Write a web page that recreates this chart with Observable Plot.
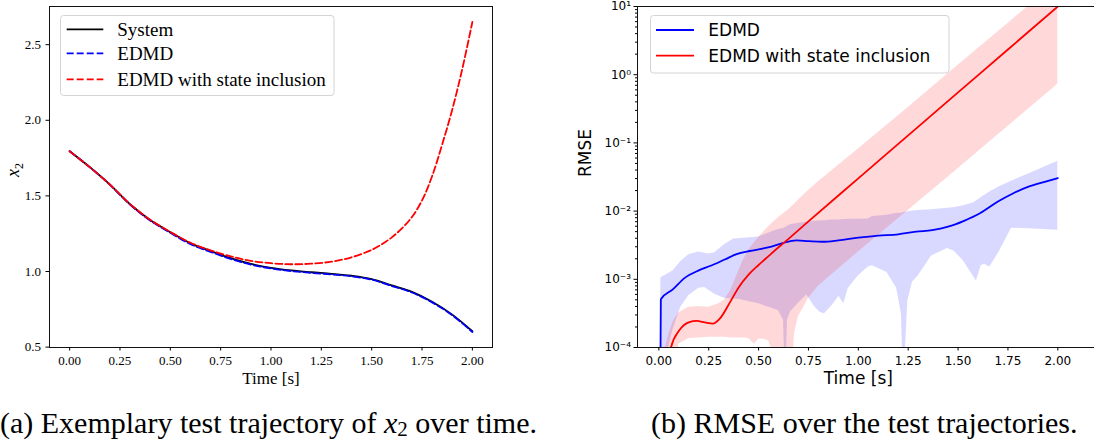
<!DOCTYPE html>
<html><head><meta charset="utf-8">
<script src="https://cdn.jsdelivr.net/npm/d3@7"></script>
<script src="https://cdn.jsdelivr.net/npm/@observablehq/plot@0.6"></script>
<style>
body{margin:0;background:#fff;}
#wrap{position:relative;width:1094px;height:443px;overflow:hidden;background:#fff;}
.panel{position:absolute;top:0;}
.panel svg{max-width:none !important;display:block;}
#overlay{position:absolute;left:0;top:0;pointer-events:none;}
.caption{position:absolute;top:408px;font-family:"Liberation Serif",serif;font-size:30px;line-height:30px;white-space:nowrap;color:#000;}
.caption .sub{font-size:0.7em;position:relative;top:0.12em;}
</style></head>
<body>
<div id="wrap">
  <div id="left" class="panel" style="left:0px;width:540px;height:400px"></div>
  <div id="right" class="panel" style="left:550px;width:560px;height:400px"></div>
  <svg id="overlay" width="1094" height="443"></svg>
  <div class="caption" style="left:0px">(a) Exemplary test trajectory of <i>x</i><span class="sub">2</span> over time.</div>
  <div class="caption" style="left:651px">(b) RMSE over the test trajectories.</div>
</div>
<script>
// ---------- (a) trajectory of x2 ----------
const timeTicks = [0, 0.25, 0.5, 0.75, 1, 1.25, 1.5, 1.75, 2];
const x2Ticks = [0.5, 1.0, 1.5, 2.0, 2.5];
const seriesNamesA = ["System", "EDMD", "EDMD with state inclusion"];

const tTraj = [0,0.1,0.2,0.3,0.4,0.5,0.6,0.7,0.8,0.9,1.0,1.1,1.2,1.3,1.4,1.5,1.6,1.7,1.8,1.9,2.0];
const x2System = [1.795,1.69,1.575,1.445,1.34,1.26,1.186,1.135,1.088,1.05,1.024,1.007,0.995,0.985,0.972,0.950,0.908,0.865,0.80,0.715,0.605];
const x2Edmd   = [1.795,1.69,1.574,1.443,1.337,1.256,1.181,1.13,1.083,1.046,1.02,1.003,0.991,0.981,0.968,0.946,0.904,0.861,0.796,0.711,0.600];
const tTrajState = [0,0.1,0.2,0.3,0.4,0.5,0.6,0.7,0.8,0.9,1.0,1.1,1.2,1.3,1.4,1.5,1.55,1.6,1.65,1.7,1.75,1.8,1.85,1.9,1.95,2.0];
const x2State  = [1.795,1.69,1.575,1.446,1.342,1.262,1.19,1.14,1.10,1.07,1.055,1.048,1.052,1.065,1.094,1.143,1.18,1.226,1.285,1.36,1.47,1.63,1.84,2.07,2.34,2.65];

// ---------- (b) RMSE ----------
const rmseTicks = [1e-4, 1e-3, 1e-2, 1e-1, 1, 10];
const rmseTickLabels = ["10\u207B\u2074","10\u207B\u00B3","10\u207B\u00B2","10\u207B\u00B9","10\u2070","10\u00B9"];
const seriesNamesB = ["EDMD", "EDMD with state inclusion"];

const tRmseEdmd = [0,0.01,0.07,0.13,0.2,0.26,0.33,0.39,0.455,0.52,0.565,0.62,0.69,0.75,0.82,0.9,1.0,1.1,1.2,1.29,1.37,1.45,1.53,1.61,1.70,1.77,1.85,1.93,2.0];
const rmseEdmd = [1e-8,5.1e-4,7.1e-4,1.05e-3,1.35e-3,1.58e-3,1.95e-3,2.34e-3,2.6e-3,2.82e-3,3.02e-3,3.39e-3,3.72e-3,3.63e-3,3.55e-3,3.72e-3,4.07e-3,4.37e-3,4.57e-3,5.0e-3,5.25e-3,5.9e-3,7.2e-3,9.3e-3,1.38e-2,1.78e-2,2.26e-2,2.66e-2,3.05e-2];

const tBandEdmd = [0,0.01,0.07,0.11,0.15,0.2,0.23,0.25,0.28,0.33,0.375,0.41,0.455,0.5,0.58,0.6,0.625,0.635,0.645,0.66,0.70,0.742,0.78,0.806,0.83,0.87,0.903,0.927,0.95,1.0,1.05,1.07,1.144,1.192,1.216,1.227,1.248,1.272,1.30,1.367,1.447,1.479,1.527,1.567,1.576,1.592,1.616,1.632,1.659,1.704,1.768,1.85,2.0];
const rmseEdmdHigh = [1e-8,1.05e-3,1.32e-3,1.82e-3,2.29e-3,2.51e-3,2.40e-3,2.34e-3,2.45e-3,3.24e-3,3.89e-3,3.98e-3,4.07e-3,4.17e-3,5.13e-3,5.37e-3,5.62e-3,5.75e-3,6.03e-3,6.31e-3,6.61e-3,6.92e-3,7.08e-3,7.24e-3,7.24e-3,7.41e-3,7.41e-3,7.50e-3,7.59e-3,7.59e-3,7.67e-3,8.32e-3,8.71e-3,9.33e-3,9.33e-3,9.55e-3,9.77e-3,1.0e-2,1.02e-2,1.05e-2,1.10e-2,1.12e-2,1.20e-2,1.29e-2,1.32e-2,1.41e-2,1.58e-2,1.70e-2,1.91e-2,2.26e-2,2.75e-2,3.47e-2,5.37e-2];
const rmseEdmdLow = [1e-8,3.16e-5,1.78e-4,3.89e-4,5.75e-4,7.41e-4,7.59e-4,6.92e-4,6.03e-4,5.25e-4,5.13e-4,5.01e-4,4.68e-4,4.37e-4,3.63e-4,3.47e-4,2.51e-4,2.51e-5,2.51e-4,3.31e-4,4.47e-4,5.89e-4,3.98e-4,3.31e-4,3.09e-4,4.17e-4,5.62e-4,4.37e-4,7.41e-4,1.12e-3,1.51e-3,1.58e-3,1.26e-3,7.41e-4,3.09e-4,2.51e-5,4.79e-4,9.12e-4,1.12e-3,2.19e-3,2.82e-3,2.60e-3,1.86e-3,1.23e-3,1.12e-3,9.33e-4,1.58e-3,1.66e-3,1.51e-3,2.45e-3,5.62e-3,5.50e-3,5.25e-3];

const tRmseState = [0,0.04,0.061,0.1,0.15,0.19,0.23,0.27,0.31,0.36,0.4,0.45,0.5,0.55,0.6,0.625,0.75,1.0,1.25,1.5,1.75,2.0];
const rmseState = [1e-8,3.98e-5,1.0e-4,1.74e-4,2.34e-4,2.45e-4,2.34e-4,2.24e-4,2.75e-4,4.79e-4,7.59e-4,1.17e-3,1.62e-3,2.19e-3,2.95e-3,3.39e-3,7.08e-3,3.02e-2,0.129,0.550,2.34,10.0];

const tBandState = [0,0.033,0.05,0.075,0.1,0.15,0.2,0.25,0.3,0.33,0.36,0.39,0.42,0.45,0.48,0.5,0.52,0.55,0.575,0.59,0.62,0.65,0.665,0.68,0.70,0.75,0.8,1.0,1.25,1.5,1.75,2.0];
const rmseStateHigh = [1e-8,1.0e-4,1.58e-4,2.51e-4,3.24e-4,3.89e-4,3.98e-4,3.89e-4,4.37e-4,5.01e-4,6.92e-4,1.12e-3,1.82e-3,2.69e-3,3.47e-3,4.07e-3,4.79e-3,5.89e-3,6.92e-3,7.59e-3,8.91e-3,1.05e-2,1.15e-2,1.26e-2,1.45e-2,2.0e-2,2.69e-2,8.13e-2,0.331,1.38,5.62,23.4];
const rmseStateLow = [1e-8,1e-6,3.16e-6,1e-5,1.12e-4,1.35e-4,1.38e-4,1.41e-4,1.41e-4,1.41e-4,1.38e-4,1.38e-4,1.38e-4,1.35e-4,1.12e-4,1.32e-4,1.32e-4,1.26e-4,7.94e-5,2.51e-5,1e-6,1e-6,2.51e-5,1.58e-4,2.82e-4,5.25e-4,7.94e-4,2.51e-3,1.02e-2,4.17e-2,0.174,0.724];

// ---------- build rows ----------
const rowsSystem = tTraj.map((t,i)=>({t, v:x2System[i]}));
const rowsEdmd = tTraj.map((t,i)=>({t, v:x2Edmd[i]}));
const rowsState = tTrajState.map((t,i)=>({t, v:x2State[i]}));
const rowsRmseEdmd = tRmseEdmd.map((t,i)=>({t, v:rmseEdmd[i]}));
const rowsBandEdmd = tBandEdmd.map((t,i)=>({t, lo:rmseEdmdLow[i], hi:rmseEdmdHigh[i]}));
const rowsRmseState = tRmseState.map((t,i)=>({t, v:rmseState[i]}));
const rowsBandState = tBandState.map((t,i)=>({t, lo:rmseStateLow[i], hi:rmseStateHigh[i]}));
const minorTicks = [];
for (let k=-4;k<1;k++) for (let m=2;m<=9;m++) minorTicks.push(m*Math.pow(10,k));

const dash = "7,3";
const serif = "Liberation Serif";
const sans = "DejaVu Sans";

const left = Plot.plot({
  width: 540, height: 400,
  marginLeft: 49, marginRight: 48, marginTop: 6, marginBottom: 53,
  x: {domain: [-0.1, 2.1]},
  y: {domain: [0.4975, 2.7525]},
  style: {fontFamily: serif, fontSize: "13px", color: "black", background: "white"},
  marks: [
    Plot.line(rowsSystem, {x:"t", y:"v", stroke:"black", strokeWidth:1.8, curve:"catmull-rom"}),
    Plot.line(rowsEdmd, {x:"t", y:"v", stroke:"blue", strokeWidth:1.8, strokeDasharray:dash, curve:"catmull-rom"}),
    Plot.line(rowsState, {x:"t", y:"v", stroke:"red", strokeWidth:1.8, strokeDasharray:dash, curve:"catmull-rom"}),
    Plot.frame({stroke:"#111", strokeWidth:1}),
    Plot.axisX({ticks: timeTicks, tickFormat: d=>d.toFixed(2), tickSize: 3.5, tickPadding: 5, label: null, fontSize: 13}),
    Plot.axisY({ticks: x2Ticks, tickFormat: d=>d.toFixed(1), tickSize: 3.5, tickPadding: 5, label: null, fontSize: 13}),
    Plot.text([{t:1, s:"Time [s]"}], {x:"t", text:"s", frameAnchor:"bottom", dy:36, fontSize:17}),
    Plot.text(["x2"], {frameAnchor:"left", dx:-36, rotate:-90, fontSize:18})
  ]
});
document.getElementById("left").appendChild(left);
// italic x with subscript 2 for the y label
left.querySelectorAll("text").forEach(el => {
  if (el.textContent === "x2") {
    el.textContent = "";
    const ns = "http://www.w3.org/2000/svg";
    const a = document.createElementNS(ns,"tspan"); a.setAttribute("font-style","italic"); a.textContent = "x";
    const b = document.createElementNS(ns,"tspan"); b.setAttribute("font-size","12"); b.setAttribute("dy","4"); b.textContent = "2";
    el.appendChild(a); el.appendChild(b);
  }
});

const right = Plot.plot({
  width: 560, height: 400,
  marginLeft: 87, marginRight: 13, marginTop: 6, marginBottom: 53,
  x: {domain: [-0.107, 2.199]},
  y: {type: "log", domain: [1e-4, 10]},
  style: {fontFamily: sans, fontSize: "12px", color: "black", background: "white"},
  marks: [
    Plot.areaY(rowsBandEdmd, {x:"t", y1:"lo", y2:"hi", fill:"blue", fillOpacity:0.15, clip:true}),
    Plot.areaY(rowsBandState, {x:"t", y1:"lo", y2:"hi", fill:"red", fillOpacity:0.15, clip:true}),
    Plot.line(rowsRmseEdmd, {x:"t", y:"v", stroke:"blue", strokeWidth:1.8, curve:"monotone-x", clip:true}),
    Plot.line(rowsRmseState, {x:"t", y:"v", stroke:"red", strokeWidth:1.8, curve:"monotone-x", clip:true}),
    Plot.frame({stroke:"#111", strokeWidth:1}),
    Plot.axisX({ticks: timeTicks, tickFormat: d=>d.toFixed(2), tickSize: 3.5, tickPadding: 5, label: null, fontSize: 12}),
    Plot.axisY({ticks: rmseTicks, tickFormat: d=>rmseTickLabels[rmseTicks.indexOf(d)], tickSize: 3.5, tickPadding: 3, label: null, fontSize: 12}),
    Plot.axisY({ticks: minorTicks, tickFormat: () => "", tickSize: 2, label: null}),
    Plot.text([{t:1, s:"Time [s]"}], {x:"t", text:"s", frameAnchor:"bottom", dy:36, fontSize:17}),
    Plot.text(["RMSE"], {frameAnchor:"left", dx:-52, rotate:-90, fontSize:17})
  ]
});
document.getElementById("right").appendChild(right);

// ---------- legends ----------
const ov = d3.select("#overlay");
function legend(box, items, font, size, hx0, hx1, tx, off) {
  ov.append("rect").attr("x",box[0]).attr("y",box[1]).attr("width",box[2]).attr("height",box[3])
    .attr("rx",3).attr("fill","white").attr("fill-opacity",0.8).attr("stroke","#d4d4d4").attr("stroke-width",1);
  items.forEach(it => {
    ov.append("line").attr("x1",hx0).attr("x2",hx1).attr("y1",it.y).attr("y2",it.y)
      .attr("stroke",it.color).attr("stroke-width",1.8).attr("stroke-dasharray",it.dash||null);
    ov.append("text").attr("x",tx).attr("y",it.y+off).attr("font-family",font).attr("font-size",size).attr("fill","black").text(it.label);
  });
}
legend([60.5,15.5,273.5,80], [
  {label: seriesNamesA[0], color:"black", y:29.3},
  {label: seriesNamesA[1], color:"blue", dash:dash, y:53.3},
  {label: seriesNamesA[2], color:"red", dash:dash, y:79.3}
], serif, 19, 66.7, 103.3, 117.3, 6.5);
legend([650.5,15.5,298.5,57.5], [
  {label: seriesNamesB[0], color:"blue", y:30},
  {label: seriesNamesB[1], color:"red", y:55.7}
], sans, 17, 656, 694, 708.3, 6);
</script>
</body></html>
